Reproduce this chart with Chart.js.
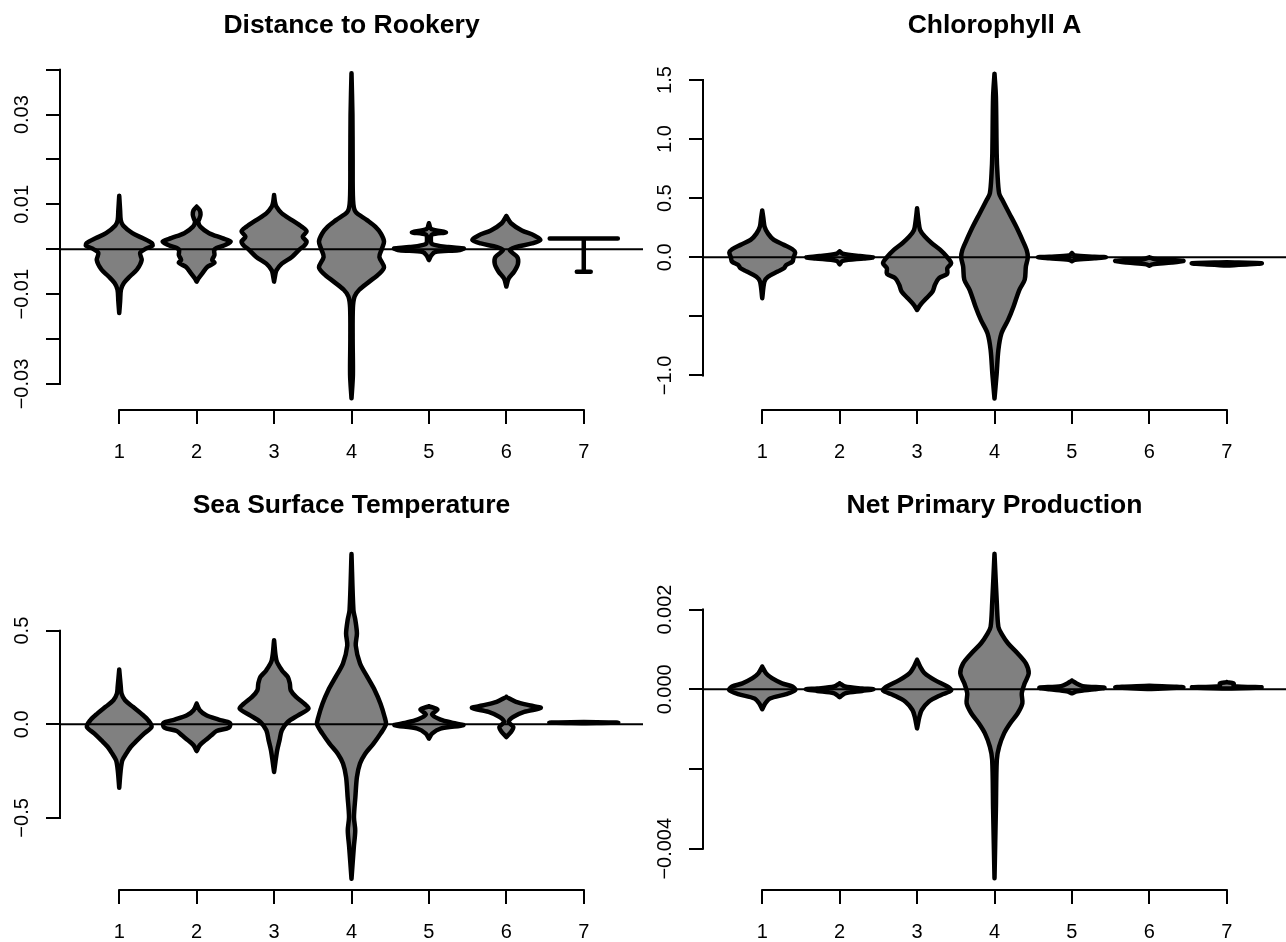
<!DOCTYPE html>
<html>
<head>
<meta charset="utf-8">
<script src="https://cdn.jsdelivr.net/npm/chart.js@4.4.1/dist/chart.umd.min.js"></script>
<style>
  html, body { margin: 0; padding: 0; background: #ffffff; overflow: hidden; width: 1286px; height: 942px; }
  canvas { position: absolute; }
</style>
</head>
<body>
<canvas id="p1" width="643" height="471" style="left:0px;top:0px"></canvas>
<canvas id="p2" width="643" height="471" style="left:643px;top:0px"></canvas>
<canvas id="p3" width="643" height="471" style="left:0px;top:480px"></canvas>
<canvas id="p4" width="643" height="471" style="left:643px;top:480px"></canvas>
<script>
// ---------------- data ----------------
const categories = [1, 2, 3, 4, 5, 6, 7];
const categoryLabels = ['1', '2', '3', '4', '5', '6', '7'];
const referenceLine = 0;

const panelTitles = ['Distance to Rookery', 'Chlorophyll A', 'Sea Surface Temperature', 'Net Primary Production'];

// y tick values and labels (R skips overlapping labels)
const distanceTicks = [-0.03, -0.02, -0.01, 0, 0.01, 0.02, 0.03, 0.04];
const distanceTickLabels = ['\u22120.03', '', '\u22120.01', '', '0.01', '', '0.03', ''];
const chlorophyllTicks = [-1.0, -0.5, 0, 0.5, 1.0, 1.5];
const chlorophyllTickLabels = ['\u22121.0', '', '0.0', '0.5', '1.0', '1.5'];
const sstTicks = [-0.5, 0, 0.5];
const sstTickLabels = ['\u22120.5', '0.0', '0.5'];
const nppTicks = [-0.004, -0.002, 0, 0.002];
const nppTickLabels = ['\u22120.004', '', '0.000', '0.002'];

// violin profiles: [value, half-width in category units], top to bottom, one list per category
const distanceViolins = [
  [[0.0119,0],[0.0085,0.012],[0.0065,0.02],[0.0053,0.05],[0.0036,0.17],[0.0025,0.30],[0.0014,0.42],[0.0008,0.43],[0.0002,0.35],[-0.0008,0.27],[-0.0024,0.29],[-0.0045,0.23],[-0.006,0.14],[-0.0075,0.06],[-0.009,0.022],[-0.0115,0.012],[-0.0142,0]],
  [[0.0095,0],[0.0087,0.04],[0.0077,0.05],[0.0068,0.035],[0.0061,0.02],[0.005,0.05],[0.0036,0.16],[0.0025,0.33],[0.0017,0.44],[0.0009,0.36],[0,0.23],[-0.0013,0.23],[-0.0024,0.2],[-0.003,0.23],[-0.0039,0.14],[-0.0054,0.07],[-0.0065,0.022],[-0.0072,0]],
  [[0.0121,0],[0.0105,0.012],[0.0095,0.03],[0.008,0.1],[0.0065,0.23],[0.005,0.36],[0.004,0.42],[0.0028,0.37],[0.0017,0.42],[0.0008,0.39],[0,0.33],[-0.0017,0.23],[-0.0032,0.1],[-0.0047,0.03],[-0.006,0.012],[-0.0072,0]],
  [[0.0392,0],[0.03,0.012],[0.02,0.015],[0.011,0.02],[0.0084,0.05],[0.0065,0.2],[0.005,0.31],[0.0035,0.38],[0.0017,0.42],[0,0.39],[-0.0017,0.36],[-0.004,0.42],[-0.0054,0.36],[-0.0072,0.23],[-0.009,0.1],[-0.0105,0.04],[-0.013,0.018],[-0.02,0.015],[-0.028,0.018],[-0.0332,0]],
  [[0.0058,0],[0.0045,0.03],[0.0038,0.22],[0.0033,0.04],[0.0025,0.025],[0.0012,0.04],[0.0005,0.25],[0.0002,0.45],[-0.0002,0.38],[-0.0006,0.08],[-0.0015,0.025],[-0.0024,0]],
  [[0.0074,0],[0.0058,0.06],[0.0042,0.2],[0.0031,0.36],[0.0021,0.44],[0.0013,0.33],[0.0005,0.12],[-0.0002,0.045],[-0.0017,0.14],[-0.0032,0.15],[-0.005,0.1],[-0.0065,0.03],[-0.0083,0]],
  [[0.0024,0.44],[0.0024,0],[-0.005,0],[-0.005,0.09]]
];
const chlorophyllViolins = [
  [[0.395,0],[0.33,0.015],[0.26,0.03],[0.2,0.075],[0.147,0.15],[0.105,0.28],[0.068,0.39],[0.04,0.425],[0,0.405],[-0.037,0.39],[-0.065,0.31],[-0.093,0.28],[-0.12,0.2],[-0.164,0.075],[-0.206,0.028],[-0.347,0]],
  [[0.05,0],[0.03,0.04],[0.01,0.26],[0,0.43],[-0.01,0.31],[-0.03,0.04],[-0.06,0]],
  [[0.415,0],[0.3,0.02],[0.23,0.04],[0.175,0.1],[0.119,0.19],[0.062,0.3],[0,0.39],[-0.05,0.44],[-0.093,0.39],[-0.14,0.39],[-0.178,0.28],[-0.234,0.23],[-0.29,0.2],[-0.347,0.12],[-0.40,0.045],[-0.446,0]],
  [[1.553,0],[1.36,0.018],[0.88,0.028],[0.71,0.038],[0.54,0.06],[0.486,0.1],[0.373,0.19],[0.26,0.28],[0.147,0.36],[0.062,0.415],[0,0.43],[-0.079,0.405],[-0.19,0.39],[-0.277,0.32],[-0.418,0.245],[-0.53,0.176],[-0.644,0.09],[-0.785,0.05],[-0.983,0.028],[-1.195,0]],
  [[0.035,0],[0.015,0.04],[0.005,0.29],[0,0.44],[-0.008,0.29],[-0.02,0.04],[-0.033,0]],
  [[0.0,0],[-0.015,0.07],[-0.03,0.44],[-0.045,0.29],[-0.06,0.04],[-0.072,0]],
  [[-0.042,0],[-0.05,0.45],[-0.06,0.29],[-0.07,0]]
];
const sstViolins = [
  [[0.292,0],[0.2,0.02],[0.164,0.03],[0.128,0.075],[0.093,0.177],[0.057,0.284],[0.021,0.375],[-0.014,0.418],[-0.05,0.32],[-0.086,0.23],[-0.12,0.15],[-0.157,0.09],[-0.193,0.04],[-0.25,0.018],[-0.339,0]],
  [[0.11,0],[0.075,0.04],[0.048,0.125],[0.025,0.284],[0.007,0.43],[-0.018,0.418],[-0.036,0.257],[-0.059,0.19],[-0.086,0.11],[-0.112,0.04],[-0.143,0]],
  [[0.449,0],[0.342,0.03],[0.289,0.1],[0.253,0.177],[0.217,0.204],[0.182,0.215],[0.146,0.284],[0.11,0.39],[0.084,0.445],[0.048,0.31],[0.012,0.177],[-0.032,0.1],[-0.086,0.07],[-0.139,0.04],[-0.2,0.018],[-0.255,0]],
  [[0.909,0],[0.61,0.025],[0.556,0.05],[0.485,0.07],[0.42,0.055],[0.324,0.11],[0.253,0.204],[0.182,0.3],[0.11,0.375],[0.039,0.428],[0,0.445],[-0.05,0.375],[-0.103,0.284],[-0.157,0.177],[-0.21,0.11],[-0.282,0.07],[-0.389,0.05],[-0.496,0.032],[-0.567,0.048],[-0.656,0.03],[-0.825,0]],
  [[0.096,0],[0.078,0.11],[0.053,0.04],[0.025,0.15],[0.007,0.31],[-0.005,0.445],[-0.023,0.15],[-0.05,0.04],[-0.077,0]],
  [[0.146,0],[0.12,0.125],[0.1,0.31],[0.087,0.445],[0.066,0.23],[0.039,0.09],[0.012,0.03],[-0.014,0.09],[-0.041,0.06],[-0.068,0]],
  [[0.012,0],[0.009,0.445],[0.006,0]]
];
const nppViolins = [
  [[0.00057,0],[0.0004,0.05],[0.00028,0.125],[0.00015,0.256],[0.00007,0.39],[-0.00002,0.426],[-0.00012,0.31],[-0.00023,0.1],[-0.00035,0.04],[-0.0005,0]],
  [[0.00015,0],[0.00007,0.07],[0.00002,0.29],[0,0.437],[-0.00004,0.29],[-0.0001,0.07],[-0.0002,0]],
  [[0.00074,0],[0.00057,0.04],[0.0004,0.1],[0.00023,0.23],[0.00007,0.39],[-0.00003,0.44],[-0.00014,0.31],[-0.00031,0.15],[-0.00052,0.06],[-0.00069,0.03],[-0.00098,0]],
  [[0.0034,0],[0.00216,0.03],[0.00157,0.05],[0.0014,0.09],[0.00115,0.176],[0.0009,0.3],[0.00065,0.405],[0.0004,0.442],[0.00015,0.39],[-0.0001,0.352],[-0.00035,0.36],[-0.0006,0.3],[-0.00085,0.203],[-0.0011,0.125],[-0.00144,0.06],[-0.00177,0.03],[-0.003,0.018],[-0.00474,0]],
  [[0.00022,0],[0.00015,0.055],[0.00008,0.14],[0.00004,0.42],[0,0.29],[-0.00005,0.07],[-0.0001,0]],
  [[0.00009,0],[0.00005,0.44],[0.00001,0]],
  [[0.00018,0],[0.00015,0.09],[0.00008,0.09],[0.00005,0.45],[0.00002,0]]
];

// axis ranges (plot region limits)
const xRange = [0.235, 7.765];
const distanceRange = [-0.03579, 0.04216];
const chlorophyllRange = [-1.292, 1.669];
const sstRange = [-0.885, 0.984];
const nppRange = [-0.005035, 0.003746];

// ---------------- rendering ----------------
const FAMILY = '"Liberation Sans", Arial, Helvetica, sans-serif';
const TICK_SIZE = 20;
Chart.defaults.font.family = FAMILY;
Chart.defaults.color = '#000';

const rAxes = {
  id: 'rAxes',
  afterDatasetsDraw(chart, args, opts) {
    const { ctx, chartArea: a, scales: { x, y } } = chart;
    ctx.save();
    ctx.strokeStyle = '#000';
    ctx.lineWidth = 2;
    // abline(h = 0)
    const y0 = y.getPixelForValue(opts.refValue);
    ctx.beginPath();
    ctx.moveTo(a.left, y0);
    ctx.lineTo(a.right, y0);
    ctx.stroke();
    ctx.lineCap = 'square';
    // y axis line between first and last tick
    const yt = y.ticks;
    ctx.beginPath();
    ctx.moveTo(a.left, y.getPixelForValue(yt[0].value));
    ctx.lineTo(a.left, y.getPixelForValue(yt[yt.length - 1].value));
    ctx.stroke();
    // x axis line between first and last tick
    const xt = x.ticks;
    ctx.beginPath();
    ctx.moveTo(x.getPixelForValue(xt[0].value), a.bottom);
    ctx.lineTo(x.getPixelForValue(xt[xt.length - 1].value), a.bottom);
    ctx.stroke();
    ctx.restore();
  }
};

function labelPadding(labels) {
  const c = document.createElement('canvas').getContext('2d');
  c.font = TICK_SIZE + 'px ' + FAMILY;
  const w = Math.max(...labels.map(l => c.measureText(l).width));
  return 60 - 14 - 22.5 - w / 2;
}

function violinDatasets(profiles) {
  return profiles.map((prof, i) => {
    const c = categories[i];
    const right = prof.map(([v, w]) => ({ x: c + w, y: v }));
    const left = prof.slice().reverse().map(([v, w]) => ({ x: c - w, y: v }));
    const pts = right.concat(left);
    pts.push(right[0]);
    const degenerate = prof.some(([v, w], k) => w === 0 && k > 0 && k < prof.length - 1);
    return {
      data: pts,
      fill: 'shape',
      backgroundColor: '#808080',
      borderColor: '#000000',
      borderWidth: 4.5,
      pointRadius: 0,
      pointHoverRadius: 0,
      tension: degenerate ? 0 : 0.3,
      borderJoinStyle: 'round',
      borderCapStyle: 'round'
    };
  });
}

function makePanel(id, title, yTicks, yLabels, profiles, yRange) {
  const gridOpts = { display: true, drawOnChartArea: false, drawTicks: true, tickLength: 14, color: '#000', lineWidth: 2 };
  new Chart(document.getElementById(id), {
    type: 'line',
    data: { datasets: violinDatasets(profiles) },
    options: {
      responsive: false,
      animation: false,
      devicePixelRatio: 1,
      layout: { padding: 0 },
      events: [],
      plugins: {
        legend: { display: false },
        tooltip: { enabled: false },
        title: {
          display: true, text: title, fullSize: false, color: '#000',
          font: { size: 26.5, weight: 'bold', family: FAMILY, lineHeight: 1.2 },
          padding: { top: 10, bottom: 18.2 }
        },
        rAxes: { refValue: referenceLine }
      },
      scales: {
        x: {
          type: 'linear', min: xRange[0], max: xRange[1], bounds: 'data',
          afterBuildTicks: s => { s.ticks = categories.map(v => ({ value: v })); },
          afterFit: s => { s.height = 61; },
          ticks: { autoSkip: false, minRotation: 0, maxRotation: 0, padding: 16, color: '#000',
                   font: { size: TICK_SIZE }, callback: (v, i) => categoryLabels[i] },
          grid: gridOpts,
          border: { display: false }
        },
        y: {
          type: 'linear', min: yRange[0], max: yRange[1], bounds: 'data',
          afterBuildTicks: s => { s.ticks = yTicks.map(v => ({ value: v })); },
          afterFit: s => { s.width = 60; },
          ticks: { autoSkip: false, minRotation: 90, maxRotation: 90, crossAlign: 'center',
                   padding: labelPadding(yLabels), color: '#000',
                   font: { size: TICK_SIZE }, callback: (v, i) => yLabels[i] },
          grid: gridOpts,
          border: { display: false }
        }
      }
    },
    plugins: [rAxes]
  });
}

makePanel('p1', panelTitles[0], distanceTicks, distanceTickLabels, distanceViolins, distanceRange);
makePanel('p2', panelTitles[1], chlorophyllTicks, chlorophyllTickLabels, chlorophyllViolins, chlorophyllRange);
makePanel('p3', panelTitles[2], sstTicks, sstTickLabels, sstViolins, sstRange);
makePanel('p4', panelTitles[3], nppTicks, nppTickLabels, nppViolins, nppRange);
</script>
</body>
</html>
